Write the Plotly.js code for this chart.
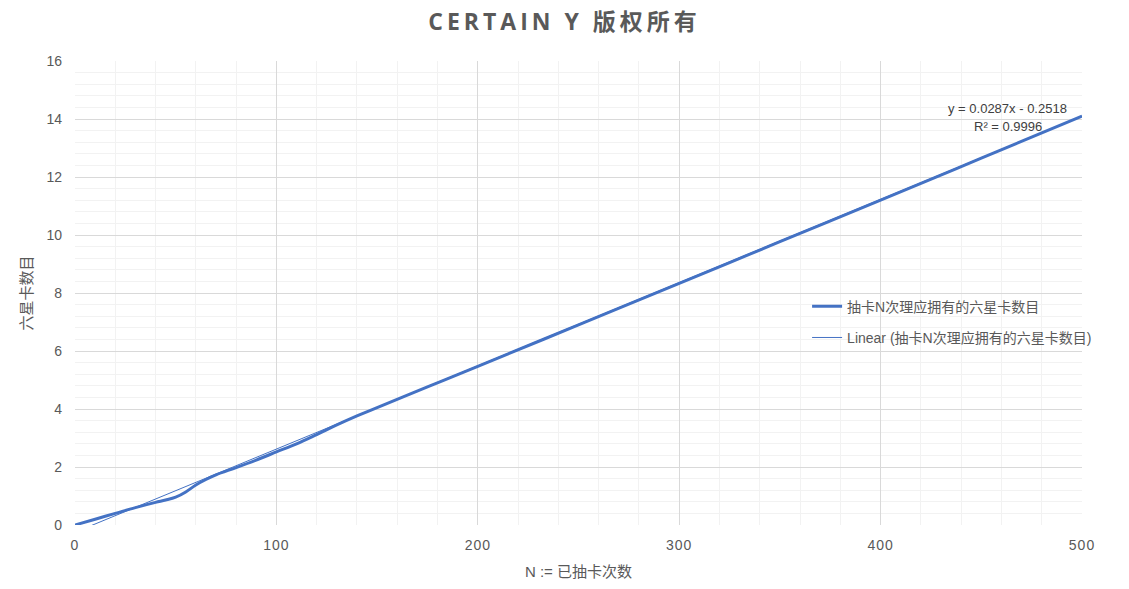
<!DOCTYPE html>
<html>
<head>
<meta charset="utf-8">
<script src="https://cdn.plot.ly/plotly-3.0.1.min.js"></script>
<style>html,body{margin:0;padding:0;background:#fff;}#chart{width:1129px;height:589px;}
.gtitle{letter-spacing:4px;}
.xtick text{letter-spacing:1px;}
</style>
</head>
<body>
<div id="chart"></div>
<script>
// Data
const pulls = [0, 10, 20, 30, 40, 45, 50, 55, 60, 65, 70, 80, 90, 100, 110, 120, 130, 140, 150, 175, 200, 250, 300, 350, 400, 450, 500];
const sixStars = [0, 0.2, 0.4, 0.6, 0.78, 0.86, 0.96, 1.14, 1.38, 1.57, 1.73, 1.98, 2.24, 2.52, 2.8, 3.12, 3.45, 3.76, 4.05, 4.76, 5.47, 6.9, 8.33, 9.77, 11.2, 12.65, 14.1];
const trendX = [0, 500];
const trendY = [-0.2518, 14.0982];
const seriesName = '抽卡N次理应拥有的六星卡数目';
const trendName = 'Linear (抽卡N次理应拥有的六星卡数目)';
const equationText = 'y = 0.0287x - 0.2518';
const r2Text = 'R² = 0.9996';

const FONT = '"Liberation Sans", "Noto Sans CJK SC", sans-serif';
const GREY = '#595959';

const traces = [
  {x: pulls, y: sixStars, type: 'scatter', mode: 'lines', name: seriesName,
   line: {color: '#4472C4', width: 3, shape: 'spline', smoothing: 1}, legendgroup: 'a'},
  {x: trendX, y: trendY, type: 'scatter', mode: 'lines', name: trendName,
   line: {color: '#4472C4', width: 1}, legendgroup: 'b'}
];

const layout = {
  width: 1129, height: 589,
  margin: {l: 75, r: 47, t: 61, b: 64},
  paper_bgcolor: '#ffffff', plot_bgcolor: '#ffffff',
  font: {family: FONT, color: GREY, size: 14},
  title: {text: '<b>CERTAIN Y 版权所有</b>', x: 0.5, xanchor: 'center', y: 0.962, yanchor: 'middle',
          font: {family: '"Open Sans", "Noto Sans CJK SC", sans-serif', size: 23, color: GREY}},
  xaxis: {range: [0, 500], dtick: 100, showgrid: true, gridcolor: '#d9d9d9', gridwidth: 1,
          minor: {dtick: 20, showgrid: true, gridcolor: '#f2f2f2', gridwidth: 1},
          zeroline: false, showline: false, ticks: '', ticklen: 0, ticklabelstandoff: 10,
          tickfont: {size: 14, color: GREY, family: '"Liberation Sans", sans-serif'},
          title: {text: 'N := 已抽卡次数', standoff: 14, font: {size: 15, color: GREY}}},
  yaxis: {range: [0, 16], dtick: 2, showgrid: true, gridcolor: '#d9d9d9', gridwidth: 1,
          minor: {dtick: 0.4, showgrid: true, gridcolor: '#f2f2f2', gridwidth: 1},
          zeroline: false, showline: false, ticks: '', ticklen: 0, ticklabelstandoff: 12,
          tickfont: {size: 14, color: GREY, family: '"Liberation Sans", sans-serif'},
          title: {text: '六星卡数目', standoff: 10, font: {size: 15, color: GREY}}},
  legend: {x: 0.727, y: 0.505, xanchor: 'left', yanchor: 'top', bgcolor: 'rgba(0,0,0,0)',
           font: {size: 14, color: GREY}, traceorder: 'grouped', tracegroupgap: 10},
  annotations: [
    {xref: 'paper', yref: 'paper', x: 0.9265, y: 0.8966, xanchor: 'center', yanchor: 'middle',
     text: equationText, showarrow: false, font: {size: 13, color: '#404040'}},
    {xref: 'paper', yref: 'paper', x: 0.9265, y: 0.8578, xanchor: 'center', yanchor: 'middle',
     text: r2Text, showarrow: false, font: {size: 13, color: '#404040'}}
  ],
  showlegend: true
};

Plotly.newPlot('chart', traces, layout, {displayModeBar: false, staticPlot: true});
</script>
</body>
</html>
